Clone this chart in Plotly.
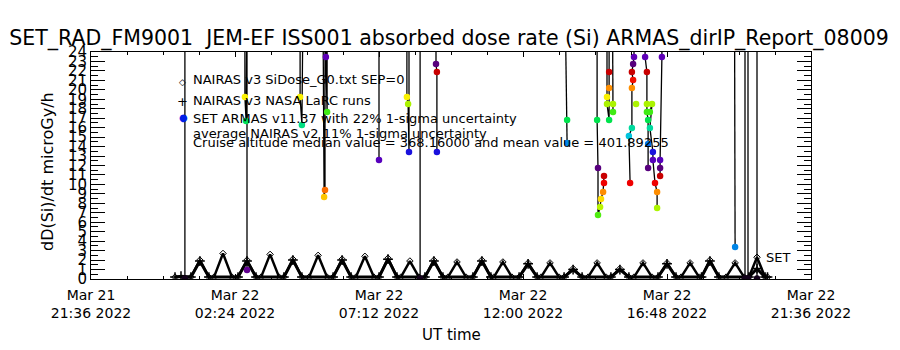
import plotly.graph_objects as go
import pandas as pd

# ---------------- data (hours after 2022-03-21 21:36 UT) ----------------
BASE_TIME = "2022-03-21 21:36"

X_TICK_HOURS = [0, 4.8, 9.6, 14.4, 19.2, 24.0]
X_TICK_LABELS = ["Mar 21<br>21:36 2022", "Mar 22<br>02:24 2022", "Mar 22<br>07:12 2022",
                 "Mar 22<br>12:00 2022", "Mar 22<br>16:48 2022", "Mar 22<br>21:36 2022"]
Y_TICKS = list(range(0, 25))

# NAIRAS v3 SiDose_G0 (diamonds): troughs and peaks of each half-orbit hump
SIDOSE_T = [2.80, 3.33, 3.63, 3.93, 4.10, 4.40, 4.70, 4.90, 5.20, 5.50, 5.67, 5.97, 6.27,
            6.43, 6.73, 7.03, 7.27, 7.57, 7.87, 8.07, 8.37, 8.67, 8.83, 9.13, 9.43,
            9.60, 9.90, 10.20, 10.33, 10.63, 10.93, 11.13, 11.43, 11.73, 11.90, 12.20, 12.50,
            12.73, 13.03, 13.33, 13.43, 13.73, 14.03, 14.27, 14.57, 14.87, 15.00, 15.30, 15.60,
            15.77, 16.07, 16.37, 16.57, 16.87, 17.17, 17.33, 17.63, 17.93, 18.10, 18.40, 18.70,
            18.90, 19.20, 19.50, 19.67, 19.97, 20.27, 20.35, 20.63, 20.93, 21.17, 21.47, 21.77,
            21.93, 22.20, 22.47, 22.55]
SIDOSE_V = [0.2, 0.2, 2.0, 0.2, 0.2, 2.7, 0.2, 0.2, 2.0, 0.2, 0.2, 2.6, 0.2,
            0.2, 2.1, 0.2, 0.2, 2.5, 0.2, 0.2, 2.1, 0.2, 0.2, 2.4, 0.2,
            0.2, 2.2, 0.2, 0.2, 1.9, 0.2, 0.2, 2.0, 0.2, 0.2, 1.8, 0.2,
            0.2, 2.0, 0.2, 0.2, 1.8, 0.2, 0.2, 1.7, 0.2, 0.2, 1.7, 0.2,
            0.2, 1.1, 0.2, 0.2, 1.7, 0.2, 0.2, 1.1, 0.2, 0.2, 1.7, 0.2,
            0.2, 1.7, 0.2, 0.2, 1.7, 0.2, 0.2, 2.0, 0.2, 0.2, 1.7, 0.2,
            0.2, 2.3, 0.2, 0.2]

# NAIRAS v3 NASA LaRC runs (+)
LARC_T = [2.80, 3.00, 3.33, 3.63, 3.93, 4.90, 5.20, 5.50, 6.43, 6.73, 7.03, 8.07, 8.37, 8.67,
          9.60, 9.90, 10.20, 11.13, 11.43, 11.73, 12.73, 13.03, 13.33, 14.27, 14.57, 14.87,
          15.77, 16.07, 16.37, 17.33, 17.63, 17.93, 18.90, 19.20, 19.50, 20.35, 20.63, 20.93,
          21.93, 22.20, 22.47, 22.55]
LARC_V = [0.2, 0.3, 0.2, 1.9, 0.2, 0.2, 1.9, 0.2, 0.2, 2.0, 0.2, 0.2, 2.0, 0.2,
          0.2, 2.1, 0.2, 0.2, 1.9, 0.2, 0.2, 1.9, 0.2, 0.2, 1.6, 0.2,
          0.2, 1.0, 0.2, 0.2, 1.0, 0.2, 0.2, 1.6, 0.2, 0.2, 1.9, 0.2,
          0.2, 1.1, 0.2, 0.2]

# SET ARMAS (values above 24 are off scale; None separates segments)
ARMAS_T = [3.13, 3.13, None,
           5.13, 5.13, 5.17, 5.20, 5.20, None,
           6.97, 6.97, 7.03, 7.07, None,
           7.73, 7.77, 7.80, 7.80, 7.83, 7.87, 7.87, None,
           9.60, 9.60, None,
           10.53, 10.53, 10.57, 10.60, 10.60, None,
           10.97, 10.97, None,
           11.50, 11.50, 11.53, 11.53, None,
           15.80, 15.87, 15.87, None,
           16.87, 16.87, 16.90, 16.90, 16.97, 17.00, 17.07, 17.10, 17.10, None,
           17.20, 17.20, 17.20, 17.27, 17.27, 17.27, 17.27, None,
           17.38, 17.40, 17.40, None,
           18.10, 18.10, 18.07, 18.03, 18.07, 18.03, 18.03, 17.93, 17.97, None,
           18.17, None,
           18.47, 18.47, 18.53, 18.53, 18.53, 18.57, 18.57, 18.57, None,
           18.63, 18.70, 18.63, 18.73, 18.73, 18.80, 18.87, 18.87, None,
           19.03, 19.03, 18.97, 18.97, 18.97, None,
           21.45, 21.47, None,
           21.80, 21.80, None,
           21.90, 21.90, None,
           22.20, 22.20]
ARMAS_V = [0.05, 30, None,
           30, 19.24, 16.7, 30, 0.95, None,
           30, 19.24, 16.28, 30, None,
           30, 8.67, 9.41, 30, 23.47, 17.66, 30, None,
           30, 12.58, None,
           30, 19.24, 18.5, 13.43, 30, None,
           30, 0.05, None,
           30, 22.73, 21.88, 13.43, None,
           30, 16.81, 14.38, None,
           30, 16.81, 11.74, 6.77, 7.61, 8.46, 9.2, 10.15, 10.89, None,
           30, 19.24, 18.5, 16.81, 20.19, 21.88, 30, None,
           30, 18.5, 17.66, None,
           30, 23.47, 22.73, 21.88, 21.04, 20.19, 15.97, 15.12, 10.15, None,
           18.5, None,
           30, 23.47, 21.88, 18.5, 17.66, 16.81, 14.27, 11.74, None,
           17.66, 18.5, 15.97, 13.43, 12.58, 10.15, 9.2, 7.51, None,
           30, 23.47, 12.58, 11.74, 10.89, None,
           30, 3.38, None,
           30, 0.05, None,
           30, 0.05, None,
           30, 0.05]

TITLE = "SET_RAD_FM9001\u00a0\u00a0JEM-EF ISS001 absorbed dose rate (Si) ARMAS_dirIP_Report_08009"
LEGEND_LINES = ["NAIRAS v3 SiDose_G0.txt SEP=0",
                "NAIRAS v3 NASA LaRC runs",
                "SET ARMAS v11.37 with 22% 1-sigma uncertainty",
                "average NAIRAS v2 11% 1-sigma uncertainty",
                "Cruise altitude median value = 368.16000 and mean value = 401.89255"]

# ---------------- helpers ----------------
base = pd.Timestamp(BASE_TIME)


def to_time(hours):
    return [None if h is None else base + pd.Timedelta(hours=h) for h in hours]


# cyclic rainbow colour table (IDL-like), wrapping every ~11 units
ANCHORS = [(0.00, (0, 0, 0)), (0.06, (80, 0, 110)), (0.12, (110, 0, 170)),
           (0.19, (60, 0, 210)), (0.26, (0, 30, 230)), (0.32, (0, 140, 230)),
           (0.39, (0, 200, 220)), (0.47, (0, 220, 150)), (0.57, (0, 230, 40)),
           (0.66, (130, 240, 0)), (0.75, (250, 250, 0)), (0.84, (255, 150, 0)),
           (0.93, (240, 0, 0)), (1.00, (200, 0, 0))]


def armas_color(v):
    if v is None:
        return "rgba(0,0,0,0)"
    f = ((v - 10.9) / 11.0) % 1.0
    for (a, ca), (b, cb) in zip(ANCHORS[:-1], ANCHORS[1:]):
        if a <= f <= b:
            w = (f - a) / (b - a)
            c = [round(ca[i] + w * (cb[i] - ca[i])) for i in range(3)]
            return f"rgb({c[0]},{c[1]},{c[2]})"
    return "rgb(0,0,0)"


FONT = "DejaVu Sans"

fig = go.Figure()

fig.add_trace(go.Scatter(
    x=to_time(SIDOSE_T), y=SIDOSE_V, mode="lines+markers",
    line=dict(color="black", width=2.5),
    marker=dict(symbol="diamond-open", size=5, color="black", line=dict(width=1)),
    showlegend=False))

fig.add_trace(go.Scatter(
    x=to_time(LARC_T), y=LARC_V, mode="lines+markers",
    line=dict(color="black", width=3),
    marker=dict(symbol="cross-thin-open", size=7, color="black", line=dict(width=1.5, color="black")),
    showlegend=False))

fig.add_trace(go.Scatter(
    x=to_time(ARMAS_T), y=ARMAS_V, mode="lines", connectgaps=False,
    line=dict(color="black", width=1.3), showlegend=False))

fig.add_trace(go.Scatter(
    x=to_time(ARMAS_T), y=ARMAS_V, mode="markers",
    marker=dict(size=6.5, color=[armas_color(v) for v in ARMAS_V]),
    showlegend=False))

# ---------------- layout ----------------
L, R, T, B = 91, 811, 52, 279
W, H = 900, 350


def px_x(x):
    return (x - L) / (R - L)


def px_y(y):
    return (B - y) / (B - T)


def note(text, x, y, size, xanchor="center", color="black", angle=0):
    return dict(text=text, x=px_x(x), y=px_y(y), xref="paper", yref="paper",
                xanchor=xanchor, yanchor="middle", showarrow=False, textangle=angle,
                font=dict(family=FONT, size=size, color=color))


annotations = []
leg_y = [80, 100, 118, 133, 142]
for txt, yy in zip(LEGEND_LINES, leg_y):
    annotations.append(note(txt, 191, yy, 13, xanchor="left"))
annotations.append(note("\u25c7", 182, 82, 9))
annotations.append(note("+", 182, 101, 13))
annotations.append(note("\u25cf", 183, 117, 10, color="rgb(0,30,230)"))
annotations.append(note("SET", 764, 257, 13, xanchor="left"))
annotations.append(note("UT time", 451, 335, 15))
annotations.append(note("dD(Si)/dt microGy/h", 47, 172, 16, angle=-90))

fig.update_layout(
    width=W, height=H,
    margin=dict(l=L, r=W - R, t=T, b=H - B, pad=0),
    paper_bgcolor="white", plot_bgcolor="white",
    title=dict(text=TITLE, x=449 / W, xref="container", xanchor="center",
               y=1 - 38 / H, yref="container", yanchor="middle",
               font=dict(family=FONT, size=20.5, color="black")),
    annotations=annotations,
    font=dict(family=FONT, color="black"),
)

fig.update_xaxes(
    type="date", range=[base, base + pd.Timedelta(hours=24)],
    tickmode="array", tickvals=to_time(X_TICK_HOURS), ticktext=X_TICK_LABELS,
    ticks="inside", ticklen=5, tickwidth=1, tickcolor="black", ticklabelstandoff=3,
    minor=dict(ticks="inside", ticklen=3, tickcolor="black",
               tickmode="array", tickvals=to_time([h * 1.2 for h in range(21)])),
    showline=True, linecolor="black", linewidth=1, mirror="ticks",
    showgrid=False, zeroline=False,
    tickfont=dict(family=FONT, size=14, color="black"))

fig.update_yaxes(
    range=[0, 24], tickmode="array", tickvals=Y_TICKS, ticktext=[str(v) for v in Y_TICKS],
    ticks="inside", ticklen=14, tickwidth=1, tickcolor="black",
    minor=dict(ticks="inside", ticklen=7, tickcolor="black", dtick=0.5, tick0=0),
    showline=True, linecolor="black", linewidth=1, mirror="ticks",
    showgrid=False, zeroline=False,
    tickfont=dict(family=FONT, size=15, color="black"))

fig.write_html("out.html")
